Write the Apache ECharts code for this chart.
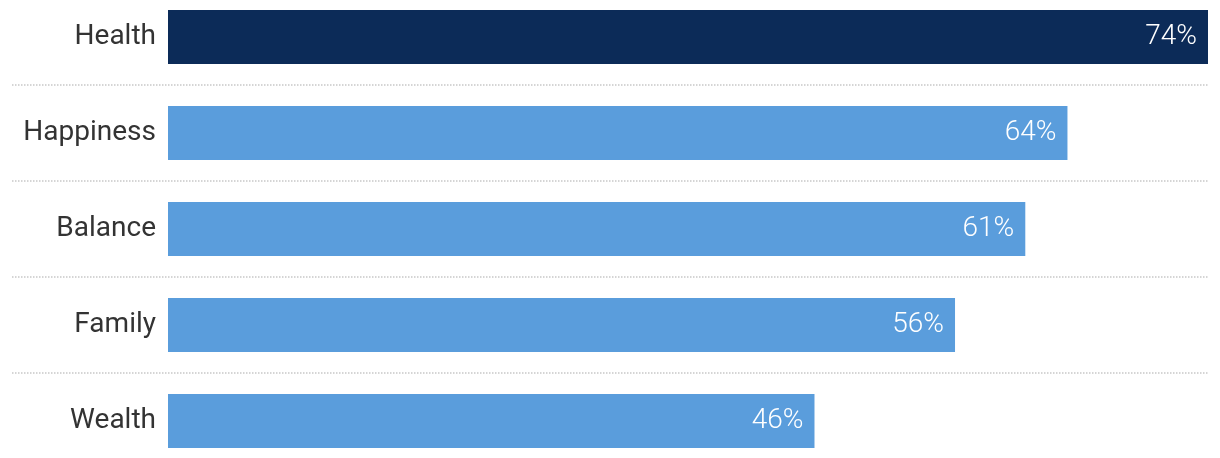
<!DOCTYPE html>
<html>
<head>
<meta charset="utf-8">
<script src="https://cdn.jsdelivr.net/npm/echarts@6/dist/echarts.min.js"></script>
<style>html,body{margin:0;padding:0;background:#fff;overflow:hidden;width:1220px;height:458px}#c{position:absolute;left:0;top:-11px;width:1220px;height:480px}</style>
</head>
<body>
<div id="c"></div>
<script>
const categories = ['Health', 'Happiness', 'Balance', 'Family', 'Wealth'];
const values = [74, 64, 61, 56, 46];
const highlightIndex = 0;

const chart = echarts.init(document.getElementById('c'), null, {renderer: 'canvas'});
chart.setOption({
  animation: false,
  grid: [
    {left: 168, right: 12, top: 0, bottom: 0, containLabel: false},
    {left: 12, right: 12, top: 0, bottom: 0, containLabel: false}
  ],
  xAxis: [
    {gridIndex: 0, type: 'value', min: 0, max: 74, show: false},
    {gridIndex: 1, type: 'value', min: 0, max: 1, show: false}
  ],
  yAxis: [
    {
      gridIndex: 0, type: 'category', data: categories, inverse: true,
      axisLine: {show: false}, axisTick: {show: false}, splitLine: {show: false},
      axisLabel: {color: '#333', fontSize: 28, fontFamily: 'Roboto', margin: 12}
    },
    {
      gridIndex: 1, type: 'category', data: categories, inverse: true,
      axisLine: {show: false}, axisTick: {show: false}, axisLabel: {show: false},
      splitLine: {show: true, lineStyle: {type: 'dotted', color: '#c8c8c8', width: 1.5}}
    }
  ],
  series: [{
    type: 'bar',
    xAxisIndex: 0, yAxisIndex: 0,
    barWidth: 54,
    data: values.map((v, i) => ({
      value: v,
      itemStyle: {color: i === highlightIndex ? '#0c2b58' : '#5a9ddc'}
    })),
    label: {
      show: true, position: 'insideRight', distance: 11,
      formatter: p => p.value + '%',
      color: '#fff', fontSize: 28, fontFamily: 'Roboto', fontWeight: 300
    }
  }]
});
</script>
</body>
</html>
